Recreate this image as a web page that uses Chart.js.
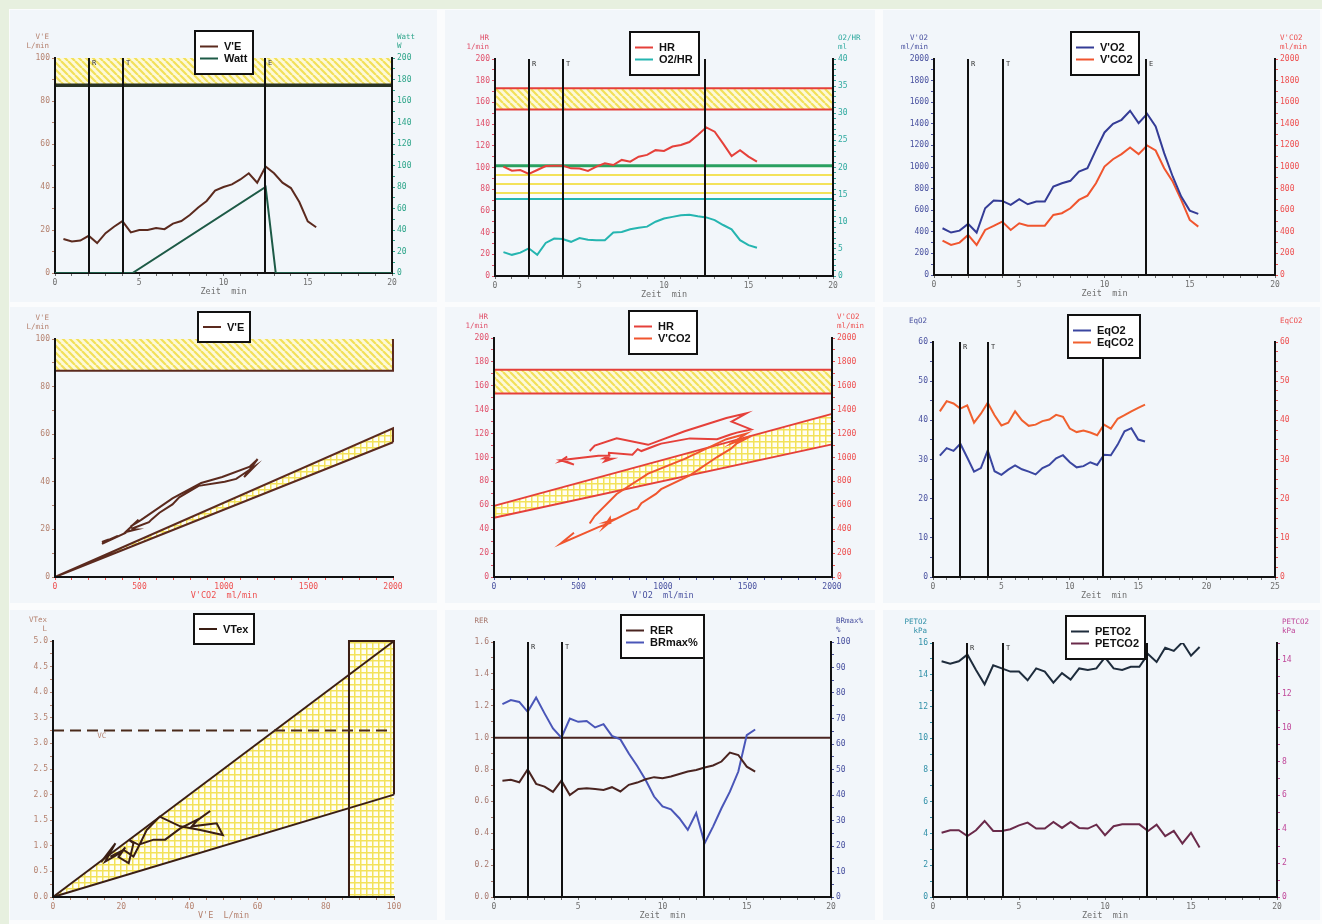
<!DOCTYPE html>
<html>
<head>
<meta charset="utf-8">
<title>Spiroergometrie</title>
<script src="https://cdn.jsdelivr.net/npm/chart.js@4.4.1/dist/chart.umd.min.js"></script>
<style>
  body { margin: 0; width: 1322px; height: 924px; overflow: hidden; position: relative; background: #e7f0df; }
  #sheet { position: absolute; left: 9px; top: 9px; right: 0; bottom: 0; background: #fbfcfd; }
  .bg { position: absolute; background: #f2f6fa; }
  canvas { position: absolute; }
</style>
</head>
<body>
<div id="sheet"></div>
<script>
// ---- values ----
const zeit = [0.5, 1, 1.5, 2, 2.5, 3, 3.5, 4, 4.5, 5, 5.5, 6, 6.5, 7, 7.5, 8, 8.5, 9, 9.5, 10,
  10.5, 11, 11.5, 12, 12.5, 13, 13.5, 14, 14.5, 15, 15.5];
const ve = [15.8, 14.7, 15.1, 17.3, 13.9, 18.5, 21.5, 24.1, 18.9, 20, 20, 20.9, 20.4, 23, 24.2, 27,
  30.5, 33.5, 38.3, 40, 41.2, 43.5, 46.4, 42, 49.5, 46.4, 42, 39.5, 33, 24, 21.3];
const wattZeit = [0, 4.6, 12.5, 13.1, 20];
const watt = [0, 0, 80, 0, 0];
const hr = [100.8, 97, 97.7, 94, 97.7, 101.4, 101.7, 101.7, 99.2, 99, 96.8, 100.8, 103.9, 102.3, 107,
  105.4, 110, 111.6, 116, 115.3, 119.3, 120.8, 123.5, 130, 137, 133, 122, 110.6, 116, 110, 105.4];
const o2hr = [4.4, 3.9, 4.3, 5.1, 3.9, 6.1, 6.9, 6.8, 6.3, 7.0, 6.7, 6.6, 6.6, 8.0, 8.1, 8.6, 8.9,
  9.1, 10.0, 10.6, 10.9, 11.2, 11.3, 11.0, 10.8, 10.3, 9.4, 8.6, 6.6, 5.7, 5.2];
const vo2 = [433, 393, 411, 473, 393, 618, 689, 686, 649, 702, 655, 680, 680, 819, 850, 872, 958, 989,
  1159, 1320, 1400, 1437, 1521, 1406, 1493, 1375, 1128, 912, 726, 596, 566];
const vco2 = [318, 278, 300, 371, 278, 417, 454, 494, 417, 479, 457, 457, 457, 556, 572, 618, 695, 735,
  850, 1004, 1072, 1119, 1180, 1119, 1199, 1153, 989, 865, 695, 510, 448];
const eqo2 = [31.0, 32.9, 32.2, 34.0, 30.5, 26.9, 27.8, 32.3, 27.0, 26.1, 27.4, 28.5, 27.5, 26.9, 26.2,
  27.8, 28.6, 30.3, 31.1, 29.3, 28.0, 28.3, 29.3, 28.6, 31.2, 31.1, 33.8, 37.2, 38.0, 35.1, 34.6];
const eqco2 = [42.3, 44.9, 44.3, 43.0, 43.8, 39.4, 41.7, 44.5, 41.3, 38.7, 39.4, 42.3, 40.0, 38.6, 38.9,
  39.8, 40.2, 41.4, 40.9, 37.9, 37.0, 37.4, 36.9, 36.2, 38.9, 37.9, 40.4, 41.3, 42.3, 43.2, 44.0];
const rer = [0.73, 0.735, 0.72, 0.80, 0.71, 0.693, 0.66, 0.73, 0.64, 0.678, 0.683, 0.678, 0.672, 0.689,
  0.662, 0.704, 0.718, 0.739, 0.752, 0.745, 0.756, 0.772, 0.787, 0.797, 0.812, 0.825, 0.85, 0.906,
  0.891, 0.818, 0.787];
const brmax = [75.6, 77.2, 76.5, 72.6, 78.2, 72.0, 66.1, 62.5, 70.0, 68.7, 69.0, 66.5, 67.8, 63.2, 61.8,
  56.3, 51.4, 45.9, 39.4, 35.5, 34.4, 30.9, 26.3, 32.9, 21.1, 27.6, 34.8, 41.3, 49.2, 63.5, 65.7];
const peto2 = [14.85, 14.7, 14.85, 15.27, 14.3, 13.4, 14.6, 14.4, 14.2, 14.2, 13.65, 14.4, 14.2, 13.5,
  14.1, 13.7, 14.4, 14.3, 14.4, 15.1, 14.4, 14.3, 14.5, 14.5, 15.3, 14.8, 15.7, 15.5, 16.05, 15.2, 15.75];
const petco2 = [3.79, 3.94, 3.94, 3.6, 3.94, 4.49, 3.9, 3.9, 4.0, 4.23, 4.39, 4.04, 4.04, 4.43, 4.08,
  4.43, 4.08, 4.04, 4.27, 3.65, 4.18, 4.29, 4.29, 4.29, 3.9, 4.27, 3.59, 3.9, 3.16, 3.8, 2.93];
// VTex against V'E (tidal loop, in recorded order)
const vtexVE = [14.1, 18.3, 15.3, 19.7, 21.2, 19.2, 22.2, 23.6, 22.2, 25.1, 29.5, 32.9, 37.3, 43.2,
  46.1, 42.2, 40.7, 48.0, 49.8, 43.2, 37.3, 31.3, 27.5, 25.6, 23.6, 20.7, 16.8];
const vtex = [0.68, 1.05, 0.69, 0.86, 0.97, 0.78, 0.66, 1.05, 1.12, 1.02, 1.12, 1.12, 1.34, 1.54,
  1.68, 1.49, 1.38, 1.44, 1.21, 1.31, 1.38, 1.57, 1.31, 1.05, 0.79, 0.92, 0.79];

// phase markers (min)
const markZeit = [2.0, 4.05, 12.45];
const markName = ['R', 'T', 'E'];

// reference ranges
const veMaxRange = [87.3, 100];          // L/min
const hrMaxRange = [153.5, 173];         // 1/min
const o2hrRange = [14.2, 20.3];          // ml
const veSlopeEnd = [56.6, 62.5];         // V'E at V'CO2 = 2000
const hrSlopeStart = [49.5, 59.5];       // HR at V'O2 = 0
const hrSlopeEnd = [111, 136.5];         // HR at V'O2 = 2000
const vtSlopeEnd = [2.0, 5.0];           // VTex at V'E = 100
const veMaxVT = 86.8;
const vcValue = 3.25;
const rerLine = 1.0;

// ---- drawing helpers ----
const MONO = '"DejaVu Sans Mono", monospace';
const BLACK = '#111';
const GREY = '#6e6e6e';

function pts(xs, ys) { return xs.map((x, i) => ({ x: x, y: ys[i] })); }
function isMajor(v, m) { return Math.abs(v / m - Math.round(v / m)) < 1e-6; }

function axis(pos, min, max, step, major, color, dec) {
  return {
    type: 'linear', position: pos, min: min, max: max,
    border: { display: true, color: BLACK, width: 2 },
    grid: { drawOnChartArea: false, drawTicks: true, tickLength: 3, color: color, lineWidth: 1 },
    ticks: {
      stepSize: step, autoSkip: false, maxRotation: 0, padding: 2, color: color,
      font: { family: MONO, size: 8 },
      callback: (v) => isMajor(v, major) ? v.toFixed(dec || 0) : ''
    }
  };
}

function line(label, xs, ys, color, axisId) {
  return {
    label: label, data: pts(xs, ys), yAxisID: axisId || 'y',
    borderColor: color, backgroundColor: color, borderWidth: 2,
    pointRadius: 0, tension: 0, fill: false
  };
}

function tile(w, h, draw) {
  const c = document.createElement('canvas');
  c.width = w; c.height = h;
  draw(c.getContext('2d'));
  return c;
}
const diagTile = tile(7, 7, g => {
  g.fillStyle = '#fdf9d8'; g.fillRect(0, 0, 7, 7);
  g.strokeStyle = '#f2e05a'; g.lineWidth = 2.2;
  g.beginPath();
  [-7, 0, 7].forEach(k => { g.moveTo(k, 0); g.lineTo(k + 7, 7); });
  g.stroke();
});
const gridTile = tile(6, 6, g => {
  g.fillStyle = '#fffef4'; g.fillRect(0, 0, 6, 6);
  g.fillStyle = '#f3e25a'; g.fillRect(0, 0, 6, 1.5); g.fillRect(0, 0, 1.5, 6);
});
const stripeTile = tile(4, 9, g => {
  g.fillStyle = '#fbfcfd'; g.fillRect(0, 0, 4, 9);
  g.fillStyle = '#f3e25a'; g.fillRect(0, 0, 4, 2);
});

function trace(ch, yId, verts) {
  const ctx = ch.ctx, xs = ch.scales.x, ys = ch.scales[yId];
  ctx.beginPath();
  verts.forEach((v, i) => {
    const px = xs.getPixelForValue(v[0]), py = ys.getPixelForValue(v[1]);
    if (i) ctx.lineTo(px, py); else ctx.moveTo(px, py);
  });
}
function area(ch, yId, verts, pat) {
  const ctx = ch.ctx;
  ctx.save();
  trace(ch, yId, verts);
  ctx.closePath();
  ctx.fillStyle = ctx.createPattern(pat, 'repeat');
  ctx.fill();
  ctx.restore();
}
function pl(ch, yId, verts, color, lw, dash) {
  const ctx = ch.ctx;
  ctx.save();
  trace(ch, yId, verts);
  ctx.strokeStyle = color; ctx.lineWidth = lw || 2;
  ctx.setLineDash(dash || []);
  ctx.stroke();
  ctx.restore();
}

function drawMarks(ch, withE) {
  const ctx = ch.ctx, a = ch.chartArea, xs = ch.scales.x;
  ctx.save();
  ctx.strokeStyle = BLACK; ctx.lineWidth = 2;
  ctx.font = '7px ' + MONO; ctx.fillStyle = '#333'; ctx.textBaseline = 'top';
  markZeit.forEach((m, i) => {
    const px = Math.round(xs.getPixelForValue(m));
    ctx.beginPath(); ctx.moveTo(px, a.bottom); ctx.lineTo(px, a.top); ctx.stroke();
    if (i < 2 || withE) ctx.fillText(markName[i], px + 3, a.top + 2);
  });
  ctx.restore();
}

function drawLegend(ch) {
  const ctx = ch.ctx, a = ch.chartArea;
  const ds = ch.data.datasets.filter(d => d.label);
  ctx.save();
  ctx.font = 'bold 11px "Liberation Sans", Arial, sans-serif';
  const tw = Math.max(...ds.map(d => ctx.measureText(d.label).width));
  const w = Math.round(5 + 18 + 6 + tw + 6), h = Math.round(16 + 13.5 * ds.length);
  const x0 = Math.round((a.left + a.right) / 2 - w / 2), y0 = Math.round(a.top - 27);
  ctx.fillStyle = '#fff'; ctx.fillRect(x0, y0, w, h);
  ctx.strokeStyle = BLACK; ctx.lineWidth = 2; ctx.strokeRect(x0, y0, w, h);
  ctx.textBaseline = 'middle';
  ds.forEach((d, i) => {
    const yy = y0 + h / 2 + (i - (ds.length - 1) / 2) * 12;
    ctx.strokeStyle = d.borderColor; ctx.lineWidth = 2;
    ctx.beginPath(); ctx.moveTo(x0 + 5, yy); ctx.lineTo(x0 + 23, yy); ctx.stroke();
    ctx.fillStyle = BLACK; ctx.fillText(d.label, x0 + 29, yy + 0.5);
  });
  ctx.restore();
}

function drawTitles(ch, t) {
  const ctx = ch.ctx, a = ch.chartArea;
  ctx.save();
  ctx.font = '7.5px ' + MONO; ctx.textBaseline = 'middle';
  if (t.l) {
    ctx.fillStyle = t.l[1]; ctx.textAlign = 'right';
    t.l[0].forEach((s, i) => ctx.fillText(s, a.left - 6, a.top - 21 + 9 * i));
  }
  if (t.r) {
    ctx.fillStyle = t.r[1]; ctx.textAlign = 'left';
    t.r[0].forEach((s, i) => ctx.fillText(s, a.right + 5, a.top - 21 + 9 * i));
  }
  ctx.font = '8.5px ' + MONO; ctx.textAlign = 'center';
  ctx.fillStyle = t.x[1];
  ctx.fillText(t.x[0], (a.left + a.right) / 2, a.bottom + 19);
  ctx.restore();
}

function deco(o) {
  return {
    id: 'deco',
    beforeDraw(ch) { if (o.under) o.under(ch); },
    afterDatasetsDraw(ch) {
      if (o.marks) drawMarks(ch, o.markE);
      if (o.over) o.over(ch);
    },
    afterDraw(ch) {
      drawLegend(ch);
      drawTitles(ch, o.titles);
    }
  };
}

// canvas box [x, y, w, h] and plot rectangle [left, top, right, bottom]
function panel(box, plot, datasets, scales, o) {
  const bg = document.createElement('div');
  bg.className = 'bg';
  bg.style.cssText = `left:${box[0] - 2}px;top:${box[1] - 2}px;width:${box[2] + 2}px;height:${box[3] - 2}px`;
  document.body.appendChild(bg);
  const cv = document.createElement('canvas');
  cv.width = box[2]; cv.height = box[3];
  cv.style.left = box[0] + 'px'; cv.style.top = box[1] + 'px';
  document.body.appendChild(cv);
  const L = plot[0] - box[0], T = plot[1] - box[1];
  const R = box[0] + box[2] - plot[2], B = box[1] + box[3] - plot[3];
  scales.x.afterFit = (s) => { s.height = B; };
  scales.y.afterFit = (s) => { s.width = L; };
  if (scales.y1) scales.y1.afterFit = (s) => { s.width = R; };
  return new Chart(cv, {
    type: 'line',
    data: { datasets: datasets },
    options: {
      responsive: false, animation: false, devicePixelRatio: 1,
      layout: { padding: { top: T, left: 0, bottom: 0, right: scales.y1 ? 0 : R } },
      scales: scales,
      plugins: { legend: { display: false }, tooltip: { enabled: false } }
    },
    plugins: [deco(o)]
  });
}

const C = {
  ve: '#5b2a1e', watt: '#1d5a46', hr: '#e5403a', o2hr: '#25b5b0', vo2: '#343c96', vco2: '#f0552e',
  eqo2: '#3a46a0', eqco2: '#f0602e', rer: '#4a2420', br: '#4a56b8', peto2: '#1e2c3c',
  petco2: '#6a2a4a', vtex: '#3a1e14'
};
const LBL = {
  brown: '#b5826f', teal: '#2ea58a', pink: '#e0506a', cyan: '#30aaa0', blue: '#4a52a0',
  red: '#ee5050', petol: '#3090a8', petcr: '#c0489a', rer: '#a8786e'
};
const zeitTitle = 'Zeit  min';

// 1: V'E and Watt over time
panel([12, 12, 425, 294], [55, 58, 392, 273],
  [line("V'E", zeit, ve, C.ve), line('Watt', wattZeit, watt, C.watt, 'y1')],
  { x: axis('bottom', 0, 20, 1, 5, GREY), y: axis('left', 0, 100, 10, 20, LBL.brown),
    y1: axis('right', 0, 200, 10, 20, LBL.teal) },
  { marks: true, markE: true,
    under: ch => {
      area(ch, 'y', [[0, veMaxRange[0]], [20, veMaxRange[0]], [20, veMaxRange[1]], [0, veMaxRange[1]]], diagTile);
      pl(ch, 'y', [[0, veMaxRange[0]], [20, veMaxRange[0]]], '#2a3424', 3.5);
    },
    titles: { l: [["V'E", 'L/min'], LBL.brown], r: [['Watt', 'W'], LBL.teal], x: [zeitTitle, GREY] } });

// 2: HR and O2/HR over time
panel([447, 12, 428, 294], [495, 59, 833, 276],
  [line('HR', zeit, hr, C.hr), line('O2/HR', zeit, o2hr, C.o2hr, 'y1')],
  { x: axis('bottom', 0, 20, 1, 5, GREY), y: axis('left', 0, 200, 10, 20, LBL.pink),
    y1: axis('right', 0, 40, 1, 5, LBL.cyan) },
  { marks: true,
    under: ch => {
      area(ch, 'y', [[0, hrMaxRange[0]], [20, hrMaxRange[0]], [20, hrMaxRange[1]], [0, hrMaxRange[1]]], diagTile);
      pl(ch, 'y', [[0, hrMaxRange[0]], [20, hrMaxRange[0]]], C.hr, 2);
      pl(ch, 'y', [[0, hrMaxRange[1]], [20, hrMaxRange[1]]], C.hr, 2);
      area(ch, 'y1', [[0, o2hrRange[0]], [20, o2hrRange[0]], [20, o2hrRange[1]], [0, o2hrRange[1]]], stripeTile);
      pl(ch, 'y1', [[0, o2hrRange[0]], [20, o2hrRange[0]]], C.o2hr, 2);
      pl(ch, 'y1', [[0, o2hrRange[1]], [20, o2hrRange[1]]], '#2aa060', 3);
    },
    titles: { l: [['HR', '1/min'], LBL.pink], r: [['O2/HR', 'ml'], LBL.cyan], x: [zeitTitle, GREY] } });

// 3: V'O2 and V'CO2 over time
panel([885, 12, 435, 294], [934, 59, 1275, 275],
  [line("V'O2", zeit, vo2, C.vo2), line("V'CO2", zeit, vco2, C.vco2, 'y1')],
  { x: axis('bottom', 0, 20, 1, 5, GREY), y: axis('left', 0, 2000, 100, 200, LBL.blue),
    y1: axis('right', 0, 2000, 100, 200, LBL.red) },
  { marks: true, markE: true,
    titles: { l: [["V'O2", 'ml/min'], LBL.blue], r: [["V'CO2", 'ml/min'], LBL.red], x: [zeitTitle, GREY] } });

// 4: V'E against V'CO2
panel([12, 309, 425, 298], [55, 339, 393, 577],
  [line("V'E", vco2, ve, C.ve)],
  { x: axis('bottom', 0, 2000, 100, 500, LBL.red), y: axis('left', 0, 100, 10, 20, LBL.brown) },
  { under: ch => {
      area(ch, 'y', [[0, veMaxRange[0] - 0.6], [2000, veMaxRange[0] - 0.6], [2000, 100], [0, 100]], diagTile);
      pl(ch, 'y', [[0, veMaxRange[0] - 0.6], [2000, veMaxRange[0] - 0.6], [2000, 100]], C.ve, 2);
      area(ch, 'y', [[0, 0], [2000, veSlopeEnd[1]], [2000, veSlopeEnd[0]]], gridTile);
      pl(ch, 'y', [[2000, veSlopeEnd[0]], [0, 0], [2000, veSlopeEnd[1]], [2000, veSlopeEnd[0]]], C.ve, 2);
    },
    titles: { l: [["V'E", 'L/min'], LBL.brown], x: ["V'CO2  ml/min", LBL.red] } });

// 5: HR and V'CO2 against V'O2
panel([447, 309, 428, 298], [494, 338, 832, 577],
  [line('HR', vo2, hr, C.hr), line("V'CO2", vo2, vco2, C.vco2, 'y1')],
  { x: axis('bottom', 0, 2000, 100, 500, LBL.blue), y: axis('left', 0, 200, 10, 20, LBL.pink),
    y1: axis('right', 0, 2000, 100, 200, LBL.red) },
  { under: ch => {
      area(ch, 'y', [[0, hrMaxRange[0]], [2000, hrMaxRange[0]], [2000, hrMaxRange[1] + 0.5], [0, hrMaxRange[1] + 0.5]], diagTile);
      pl(ch, 'y', [[0, hrMaxRange[0]], [2000, hrMaxRange[0]]], C.hr, 2);
      pl(ch, 'y', [[0, hrMaxRange[1] + 0.5], [2000, hrMaxRange[1] + 0.5]], C.hr, 2);
      area(ch, 'y', [[0, hrSlopeStart[0]], [2000, hrSlopeEnd[0]], [2000, hrSlopeEnd[1]], [0, hrSlopeStart[1]]], gridTile);
      pl(ch, 'y', [[0, hrSlopeStart[0]], [2000, hrSlopeEnd[0]]], C.hr, 2);
      pl(ch, 'y', [[0, hrSlopeStart[1]], [2000, hrSlopeEnd[1]]], C.hr, 2);
    },
    titles: { l: [['HR', '1/min'], LBL.pink], r: [["V'CO2", 'ml/min'], LBL.red], x: ["V'O2  ml/min", LBL.blue] } });

// 6: EqO2 and EqCO2 over time
panel([885, 309, 435, 298], [933, 342, 1275, 577],
  [line('EqO2', zeit, eqo2, C.eqo2), line('EqCO2', zeit, eqco2, C.eqco2, 'y1')],
  { x: axis('bottom', 0, 25, 1, 5, GREY), y: axis('left', 0, 60, 5, 10, LBL.blue),
    y1: axis('right', 0, 60, 2.5, 10, LBL.red) },
  { marks: true,
    titles: { l: [['EqO2'], LBL.blue], r: [['EqCO2'], LBL.red], x: [zeitTitle, GREY] } });

// 7: VTex against V'E
panel([12, 612, 425, 312], [53, 641, 394, 897],
  [line('VTex', vtexVE, vtex, C.vtex)],
  { x: axis('bottom', 0, 100, 5, 20, LBL.brown), y: axis('left', 0, 5, 0.25, 0.5, LBL.brown, 1) },
  { under: ch => {
      area(ch, 'y', [[0, 0], [100, vtSlopeEnd[1]], [100, vtSlopeEnd[0]]], gridTile);
      area(ch, 'y', [[veMaxVT, 0], [100, 0], [100, 5], [veMaxVT, 5]], gridTile);
      pl(ch, 'y', [[0, 0], [100, vtSlopeEnd[1]]], C.vtex, 2);
      pl(ch, 'y', [[0, 0], [100, vtSlopeEnd[0]]], C.vtex, 2);
      pl(ch, 'y', [[veMaxVT, 0], [veMaxVT, 5], [100, 5], [100, vtSlopeEnd[0]]], C.vtex, 2);
      pl(ch, 'y', [[0, vcValue], [100, vcValue]], '#4a2a1a', 2, [11, 6]);
      const ctx = ch.ctx;
      ctx.save();
      ctx.font = '7.5px ' + MONO; ctx.fillStyle = LBL.brown; ctx.textBaseline = 'top';
      ctx.fillText('VC', ch.scales.x.getPixelForValue(13), ch.scales.y.getPixelForValue(vcValue) + 2);
      ctx.restore();
    },
    titles: { l: [['VTex', 'L'], LBL.brown], x: ["V'E  L/min", LBL.brown] } });

// 8: RER and BRmax% over time
panel([447, 612, 428, 312], [494, 642, 831, 897],
  [line('RER', zeit, rer, C.rer), line('BRmax%', zeit, brmax, C.br, 'y1')],
  { x: axis('bottom', 0, 20, 1, 5, GREY), y: axis('left', 0, 1.6, 0.1, 0.2, LBL.rer, 1),
    y1: axis('right', 0, 100, 5, 10, LBL.blue) },
  { marks: true,
    under: ch => { pl(ch, 'y', [[0, rerLine], [20, rerLine]], C.rer, 2); },
    titles: { l: [['RER'], LBL.rer], r: [['BRmax%', '%'], LBL.blue], x: [zeitTitle, GREY] } });

// 9: PETO2 and PETCO2 over time
panel([885, 612, 435, 312], [933, 643, 1277, 897],
  [line('PETO2', zeit, peto2, C.peto2), line('PETCO2', zeit, petco2, C.petco2, 'y1')],
  { x: axis('bottom', 0, 20, 1, 5, GREY), y: axis('left', 0, 16, 1, 2, LBL.petol),
    y1: axis('right', 0, 15, 1, 2, LBL.petcr) },
  { marks: true,
    titles: { l: [['PETO2', 'kPa'], LBL.petol], r: [['PETCO2', 'kPa'], LBL.petcr], x: [zeitTitle, GREY] } });
</script>
</body>
</html>
